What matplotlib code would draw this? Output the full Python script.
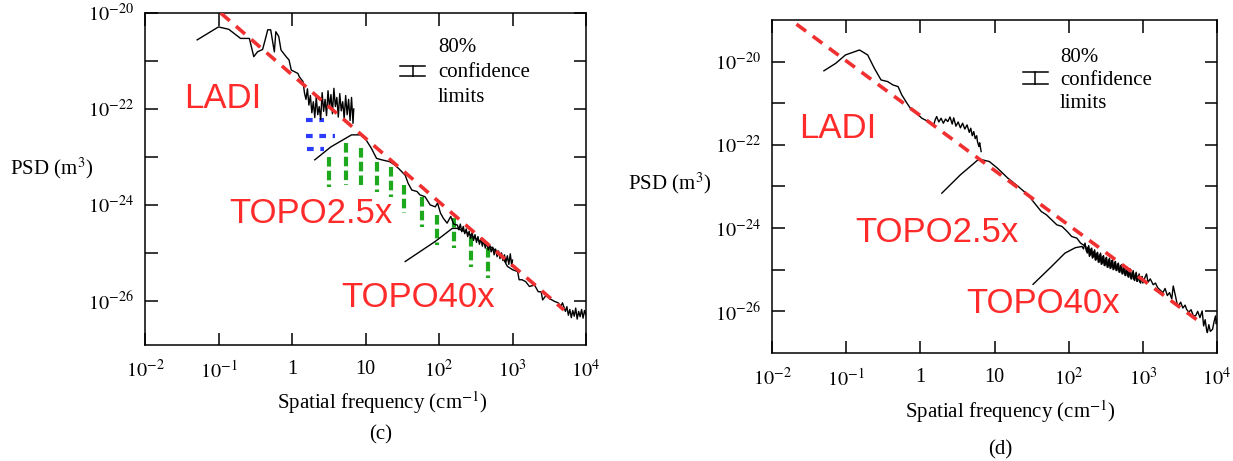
import numpy as np
import matplotlib
matplotlib.use('Agg')
import matplotlib.pyplot as plt
from matplotlib.ticker import FixedLocator, FixedFormatter, NullLocator

plt.rcParams['font.family'] = ['Liberation Serif', 'DejaVu Serif']
plt.rcParams['mathtext.fontset'] = 'stix'

# all values are log10: x = spatial frequency (cm^-1), y = PSD (m^3)

# ---- panel (c) ----
ladi_c_x = [-1.29, -1.00, -0.86, -0.70, -0.58, -0.52, -0.47, -0.40, -0.36, -0.33, -0.29,
            -0.26, -0.24, -0.22, -0.18, -0.15, -0.13, -0.08, -0.04, -0.01, 0.03, 0.08,
            0.10, 0.15, 0.17, 0.19, 0.21, 0.23, 0.25, 0.27, 0.29, 0.31, 0.33, 0.35, 0.37,
            0.39, 0.41, 0.43, 0.45, 0.47, 0.49, 0.51, 0.53, 0.55, 0.57, 0.59, 0.61, 0.63,
            0.65, 0.67, 0.69, 0.71, 0.73, 0.75, 0.77, 0.79, 0.81, 0.83, 0.84]
ladi_c_y = [-20.56, -20.29, -20.34, -20.53, -20.53, -20.91, -20.81, -20.76, -20.53, -20.35, -20.35,
            -20.63, -20.81, -20.39, -20.49, -20.77, -20.81, -20.91, -20.98, -21.19, -21.22, -21.26,
            -21.33, -21.43, -21.67, -21.80, -21.58, -21.92, -21.72, -22.08, -21.85, -22.18, -21.75,
            -22.12, -21.95, -22.22, -21.66, -22.05, -21.80, -22.14, -21.62, -21.98, -21.70, -22.10,
            -21.57, -21.95, -21.76, -22.17, -21.68, -22.04, -21.85, -22.20, -21.72, -22.12, -21.80,
            -22.24, -21.76, -22.30, -22.00]

topo25_c_x = [0.31, 0.53, 0.81, 0.95, 1.01, 1.08, 1.15, 1.22, 1.33, 1.40, 1.45, 1.54, 1.58,
              1.63, 1.70, 1.74, 1.81, 1.88, 1.95, 1.98, 2.02, 2.06, 2.11, 2.16, 2.20, 2.25,
              2.27, 2.29, 2.31, 2.33, 2.35, 2.37, 2.39, 2.41, 2.43, 2.45, 2.47, 2.49, 2.51,
              2.53, 2.55, 2.57, 2.59, 2.61, 2.63, 2.65, 2.67, 2.69, 2.71, 2.73, 2.75, 2.77,
              2.79, 2.81, 2.83, 2.85, 2.87, 2.89, 2.91, 2.93, 2.95, 2.97, 2.99, 3.00]
topo25_c_y = [-23.06, -22.79, -22.54, -22.54, -22.65, -22.82, -23.03, -23.06, -23.10, -23.17,
              -23.24, -23.38, -23.55, -23.69, -23.72, -23.79, -23.83, -24.00, -24.04, -23.96,
              -24.17, -24.28, -24.38, -24.24, -24.40, -24.42, -24.52, -24.40, -24.56, -24.45,
              -24.60, -24.50, -24.66, -24.55, -24.70, -24.58, -24.74, -24.62, -24.78, -24.66,
              -24.82, -24.70, -24.86, -24.74, -24.90, -24.78, -24.94, -24.84, -24.98, -24.88,
              -25.04, -24.92, -25.08, -24.96, -25.12, -25.00, -25.16, -25.04, -25.20, -25.06,
              -25.24, -25.02, -25.28, -25.15]

topo40_c_x = [1.54, 1.95, 2.18, 2.25, 2.36, 2.54, 2.73, 2.86, 2.93, 3.00, 3.07, 3.09, 3.13,
              3.18, 3.23, 3.30, 3.35, 3.39, 3.41, 3.46, 3.50, 3.57, 3.62, 3.66, 3.68, 3.72,
              3.74, 3.76, 3.78, 3.80, 3.82, 3.84, 3.86, 3.88, 3.90, 3.92, 3.94, 3.96, 3.98,
              4.00, 4.02, 4.03]
topo40_c_y = [-25.18, -24.76, -24.49, -24.49, -24.56, -24.74, -24.90, -25.08, -25.28, -25.35,
              -25.39, -25.56, -25.56, -25.60, -25.70, -25.67, -25.81, -25.81, -25.98, -25.88,
              -25.95, -26.01, -26.04, -26.11, -26.04, -26.22, -26.12, -26.30, -26.18, -26.35,
              -26.20, -26.32, -26.15, -26.38, -26.22, -26.33, -26.18, -26.36, -26.20, -26.30,
              -26.16, -26.28]

fit_c_x = [-0.97, 3.70]
fit_c_y = [-20.0, -26.19]

green_c_x = [0.51, 0.73, 0.945, 1.15, 1.35, 1.53, 1.77, 1.97, 2.20, 2.43, 2.67]
green_c_top = [-23.00, -22.71, -22.81, -23.10, -23.21, -23.58, -23.83, -24.21, -24.27, -24.67, -24.90]
green_c_bot = [-23.63, -23.58, -23.58, -23.73, -23.83, -24.17, -24.46, -24.83, -24.90, -25.29, -25.52]

blue_c_y = [-22.23, -22.57, -22.84]
blue_c_x0 = [0.19, 0.19, 0.21]
blue_c_x1 = [0.44, 0.58, 0.44]

# ---- panel (d) ----
ladi_d_x = [-1.30, -1.14, -1.01, -0.82, -0.71, -0.62, -0.53, -0.44, -0.37, -0.30, -0.25,
            -0.18, -0.12, -0.05, 0.02, 0.11, 0.18, 0.20, 0.22, 0.25, 0.28, 0.31, 0.34, 0.37,
            0.40, 0.43, 0.45, 0.48, 0.51, 0.54, 0.57, 0.60, 0.63, 0.66, 0.68, 0.70, 0.72,
            0.74, 0.76, 0.77, 0.79, 0.80, 0.82]
ladi_d_y = [-20.22, -20.04, -19.84, -19.72, -19.84, -20.16, -20.44, -20.48, -20.56, -20.60,
            -20.80, -21.00, -21.16, -21.24, -21.36, -21.44, -21.52, -21.40, -21.32, -21.45,
            -21.36, -21.48, -21.38, -21.44, -21.33, -21.50, -21.35, -21.55, -21.45, -21.59,
            -21.48, -21.62, -21.52, -21.70, -21.60, -21.78, -21.68, -21.85, -21.78, -21.92,
            -22.04, -21.95, -22.16]

topo25_d_x = [0.29, 0.54, 0.79, 0.93, 1.04, 1.18, 1.32, 1.45, 1.54, 1.63, 1.70, 1.77, 1.84,
              1.91, 1.98, 2.04, 2.11, 2.16, 2.23, 2.25, 2.27, 2.29, 2.31, 2.33, 2.35, 2.37,
              2.39, 2.41, 2.43, 2.45, 2.47, 2.49, 2.51, 2.53, 2.55, 2.57, 2.59, 2.61, 2.63,
              2.65, 2.67, 2.69, 2.71, 2.73, 2.75, 2.77, 2.79, 2.81, 2.83, 2.85, 2.87, 2.89,
              2.91, 2.93, 2.95, 2.97, 2.99, 3.00]
topo25_d_y = [-23.16, -22.72, -22.34, -22.40, -22.56, -22.80, -23.00, -23.20, -23.40, -23.60,
              -23.68, -23.80, -23.92, -23.96, -24.08, -24.20, -24.24, -24.36, -24.44, -24.60,
              -24.42, -24.65, -24.48, -24.70, -24.52, -24.76, -24.58, -24.82, -24.60, -24.86,
              -24.66, -24.90, -24.70, -24.94, -24.72, -24.96, -24.76, -24.99, -24.80, -25.02,
              -24.84, -25.06, -24.88, -25.10, -24.92, -25.14, -24.96, -25.18, -24.98, -25.22,
              -25.02, -25.26, -25.06, -25.28, -25.10, -25.32, -25.16, -25.26]

topo40_d_x = [1.52, 1.77, 1.95, 2.09, 2.18, 2.20, 2.22, 2.24, 2.26, 2.28, 2.30, 2.32, 2.34,
              2.36, 2.38, 2.40, 2.42, 2.44, 2.46, 2.48, 2.50, 2.52, 2.54, 2.56, 2.58, 2.60,
              2.62, 2.64, 2.66, 2.68, 2.70, 2.72, 2.74, 2.76, 2.78, 2.80, 2.82, 2.84, 2.86,
              2.88, 2.90, 2.92, 2.94, 2.96, 2.98, 3.00, 3.03, 3.05, 3.07, 3.10, 3.14, 3.17,
              3.20, 3.24, 3.27, 3.30, 3.33, 3.36, 3.39, 3.41, 3.44, 3.46, 3.48, 3.51, 3.54,
              3.57, 3.59, 3.62, 3.65, 3.68, 3.71, 3.74, 3.77, 3.80, 3.82, 3.84, 3.86, 3.87,
              3.89, 3.91, 3.94, 3.96, 3.98, 3.99, 4.00]
topo40_d_y = [-25.35, -24.92, -24.60, -24.47, -24.44, -24.50, -24.36, -24.56, -24.46, -24.68,
              -24.50, -24.72, -24.56, -24.77, -24.60, -24.82, -24.64, -24.87, -24.68, -24.90,
              -24.72, -24.94, -24.76, -24.97, -24.78, -25.00, -24.82, -25.02, -24.86, -25.06,
              -24.90, -25.10, -24.94, -25.14, -24.98, -25.17, -25.02, -25.22, -25.06, -25.24,
              -25.10, -25.28, -25.14, -25.30, -25.18, -25.32, -25.18, -25.10, -25.30, -25.22,
              -25.36, -25.32, -25.43, -25.50, -25.55, -25.45, -25.62, -25.55, -25.70, -25.39,
              -25.63, -25.80, -25.87, -25.78, -25.92, -25.85, -25.95, -26.02, -25.96, -26.10,
              -26.11, -26.00, -26.15, -25.99, -26.35, -26.20, -26.45, -26.51, -26.32, -26.48,
              -26.43, -26.25, -26.11, -26.30, -26.20]

fit_d_x = [-1.67, 3.75]
fit_d_y = [-19.10, -26.23]

x_ticks = [-2, -1, 0, 1, 2, 3, 4]
x_labels = ['$10^{-2}$', '$10^{-1}$', '1', '10', '$10^{2}$', '$10^{3}$', '$10^{4}$']
y_ticks = [-26, -25, -24, -23, -22, -21, -20]
y_labels = ['$10^{-26}$', '', '$10^{-24}$', '', '$10^{-22}$', '', '$10^{-20}$']

RED = '#ff2b2b'
DASH_RED = '#f03030'


def p(v):
    return 10.0 ** np.asarray(v)


def setup(ax, ylim):
    ax.set_xscale('log')
    ax.set_yscale('log')
    ax.set_xlim(1e-2, 1e4)
    ax.set_ylim(p(ylim[0]), p(ylim[1]))
    ax.xaxis.set_major_locator(FixedLocator(p(x_ticks)))
    ax.xaxis.set_major_formatter(FixedFormatter(x_labels))
    ax.yaxis.set_major_locator(FixedLocator(p(y_ticks)))
    ax.yaxis.set_major_formatter(FixedFormatter(y_labels))
    ax.xaxis.set_minor_locator(NullLocator())
    ax.yaxis.set_minor_locator(NullLocator())
    ax.tick_params(which='major', direction='in', length=9, width=1.1,
                   top=True, right=True, labelsize=14.5)
    ax.tick_params(axis='x', pad=11)
    ax.tick_params(axis='y', pad=8)
    for s in ax.spines.values():
        s.set_linewidth(1.1)


def legend_box(ax, tx, ty, bx0, bx1, bxm, by0, by1):
    ax.text(tx, ty[0], '80%', transform=ax.transAxes, fontsize=15, va='baseline')
    ax.text(tx, ty[1], 'confidence', transform=ax.transAxes, fontsize=15, va='baseline')
    ax.text(tx, ty[2], 'limits', transform=ax.transAxes, fontsize=15, va='baseline')
    kw = dict(transform=ax.transAxes, color='black', lw=1.1)
    ax.plot([bx0, bx1], [by0, by0], **kw)
    ax.plot([bx0, bx1], [by1, by1], **kw)
    ax.plot([bxm, bxm], [by0, by1], **kw)


fig = plt.figure(figsize=(12.33, 4.61), dpi=100)

# panel (c)
axc = fig.add_axes([145 / 1233, 1 - 345 / 461, 441 / 1233, 332 / 461])
setup(axc, (-26.92, -20.0))
for gx, gt, gb in zip(green_c_x, green_c_top, green_c_bot):
    axc.plot(p([gx, gx]), p([gt, gb]), color='#1ea81e', lw=3.0, dashes=(2.3, 1.0), zorder=1)
for by, bx0, bx1 in zip(blue_c_y, blue_c_x0, blue_c_x1):
    axc.plot(p([bx0, bx1]), p([by, by]), color='#2a3cff', lw=3.0, dashes=(1.6, 1.6), zorder=1)
axc.plot(p(ladi_c_x), p(ladi_c_y), color='black', lw=1.0, zorder=2)
axc.plot(p(topo25_c_x), p(topo25_c_y), color='black', lw=1.0, zorder=2)
axc.plot(p(topo40_c_x), p(topo40_c_y), color='black', lw=1.0, zorder=2)
axc.plot(p(fit_c_x), p(fit_c_y), color=DASH_RED, lw=2.6, dashes=(3.3, 2.3), zorder=3)
axc.text(0.088, 0.714, 'LADI', transform=axc.transAxes, color=RED, fontsize=25,
         family='Liberation Sans', va='baseline')
axc.text(0.190, 0.367, 'TOPO2.5x', transform=axc.transAxes, color=RED, fontsize=25,
         family='Liberation Sans', va='baseline')
axc.text(0.446, 0.114, 'TOPO40x', transform=axc.transAxes, color=RED, fontsize=25,
         family='Liberation Sans', va='baseline')
legend_box(axc, 0.664, (0.883, 0.807, 0.732), 0.578, 0.635, 0.607, 0.840, 0.810)

# panel (d)
axd = fig.add_axes([772 / 1233, 1 - 353 / 461, 445 / 1233, 333 / 461])
setup(axd, (-27.0, -19.0))
axd.plot(p(ladi_d_x), p(ladi_d_y), color='black', lw=1.0, zorder=2)
axd.plot(p(topo25_d_x), p(topo25_d_y), color='black', lw=1.0, zorder=2)
axd.plot(p(topo40_d_x), p(topo40_d_y), color='black', lw=1.0, zorder=2)
axd.plot(p(fit_d_x), p(fit_d_y), color=DASH_RED, lw=2.6, dashes=(3.3, 2.3), zorder=3)
axd.text(0.060, 0.646, 'LADI', transform=axd.transAxes, color=RED, fontsize=25,
         family='Liberation Sans', va='baseline')
axd.text(0.188, 0.333, 'TOPO2.5x', transform=axd.transAxes, color=RED, fontsize=25,
         family='Liberation Sans', va='baseline')
axd.text(0.437, 0.120, 'TOPO40x', transform=axd.transAxes, color=RED, fontsize=25,
         family='Liberation Sans', va='baseline')
legend_box(axd, 0.647, (0.874, 0.805, 0.736), 0.564, 0.620, 0.591, 0.844, 0.808)

# axis labels and captions
fig.text(52 / 1233, 1 - 168 / 461, 'PSD (m$^3$)', fontsize=15, ha='center', va='center')
fig.text(670 / 1233, 1 - 183 / 461, 'PSD (m$^3$)', fontsize=15, ha='center', va='center')
fig.text(382 / 1233, 1 - 403 / 461, 'Spatial frequency (cm$^{-1}$)', fontsize=15,
         ha='center', va='center')
fig.text(1010 / 1233, 1 - 412 / 461, 'Spatial frequency (cm$^{-1}$)', fontsize=15,
         ha='center', va='center')
fig.text(381 / 1233, 1 - 435 / 461, '(c)', fontsize=15, ha='center', va='center')
fig.text(1000 / 1233, 1 - 450 / 461, '(d)', fontsize=15, ha='center', va='center')

fig.savefig('out.png', dpi=100)
